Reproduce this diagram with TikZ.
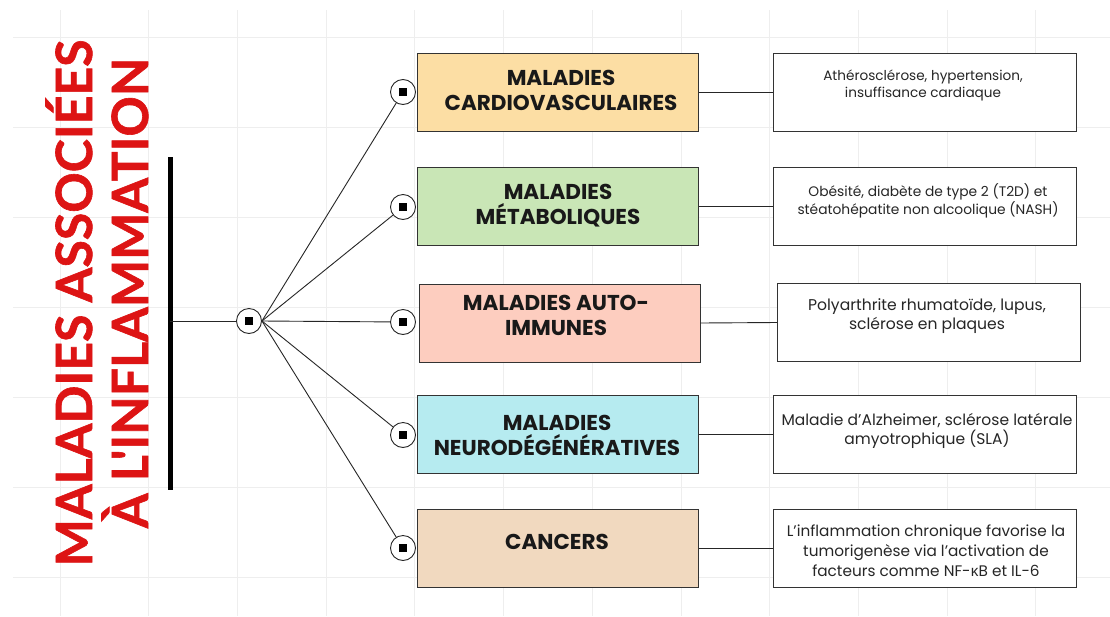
\documentclass[tikz,border=0pt]{standalone}
\usepackage{fontspec}
\setmainfont{Poppins}
\newfontfamily\titlefont[BoldFeatures={FakeBold=1.2}]{Lato}
\newfontfamily\boxfont{Poppins}
\newfontfamily\greekfont{Open Sans}
\definecolor{titlered}{HTML}{DD1414}
\definecolor{gridc}{HTML}{EEEEEE}
\definecolor{edgec}{HTML}{333333}
\definecolor{fillA}{HTML}{FCDEA4}
\definecolor{fillB}{HTML}{C9E6B6}
\definecolor{fillC}{HTML}{FDCDBF}
\definecolor{fillD}{HTML}{B6EBF0}
\definecolor{fillE}{HTML}{F1D9BF}
\tikzset{
  catbox/.style={draw=edgec, line width=1pt, rectangle, minimum width=281pt, minimum height=78pt, inner sep=0pt},
  infobox/.style={draw=edgec, line width=1pt, fill=white, rectangle, minimum width=303pt, minimum height=78pt, inner sep=0pt},
  cattext/.style={font=\boxfont\bfseries\fontsize{21.5}{25}\selectfont, align=center, text=black!90, inner sep=0pt},
  infotext/.style={align=center, text=black!85, inner sep=0pt},
  titletext/.style={rotate=90, anchor=base, text=titlered, font=\titlefont\bfseries\fontsize{50}{54}\selectfont, inner sep=0pt},
  dotnode/.style={circle, draw=black!85, line width=0.9pt, fill=white, minimum size=25pt, inner sep=0pt,
     path picture={\fill[black] ([xshift=-4pt,yshift=-4pt]path picture bounding box.center) rectangle ([xshift=4pt,yshift=4pt]path picture bounding box.center);}},
  link/.style={draw=black!85, line width=0.9pt},
}
\begin{document}
\begin{tikzpicture}[x=1pt,y=-1pt]
\useasboundingbox[fill=white] (0,0) rectangle (1110,616);
% grid
\foreach \gx in {60,148.7,...,1110} \draw[gridc, line width=0.8pt] (\gx,10) -- (\gx,616);
\foreach \gy in {37,127,...,616} \draw[gridc, line width=0.8pt] (13,\gy) -- (1110,\gy);
% title
\node[titletext] (t1) at (92,303) {MALADIES ASSOCIÉES};
\node[titletext] (t2) at (148,293) {À L'INFLAMMATION};
% bar
\coordinate (bartop) at (170,157);
\coordinate (barbot) at (170,490);
\coordinate (barmid) at (170,321);
\draw[black, line width=5pt] (bartop) -- (barbot);
% hub
\node[dotnode] (hub) at (249,321) {};
\draw[link] (barmid) -- (hub);
% category boxes
\node[catbox, fill=fillA] (b1) at (557.5,92) {};
\node[catbox, fill=fillB] (b2) at (557.5,206.5) {};
\node[catbox, fill=fillC] (b3) at (559.5,323) {};
\node[catbox, fill=fillD] (b4) at (557.5,434) {};
\node[catbox, fill=fillE] (b5) at (557.5,548) {};
\node[cattext] (c1) at (561,90) {MALADIES\\CARDIOVASCULAIRES};
\node[cattext] (c2) at (558,206) {MALADIES\\MÉTABOLIQUES};
\node[cattext] (c3) at (556,315) {MALADIES AUTO-\\IMMUNES};
\node[cattext] (c4) at (557,435) {MALADIES\\NEURODÉGÉNÉRATIVES};
\node[cattext] (c5) at (557,542) {CANCERS};
% dots
\node[dotnode] (d1) at (403,92) {};
\node[dotnode] (d2) at (403,207) {};
\node[dotnode] (d3) at (403,322) {};
\node[dotnode] (d4) at (403,435) {};
\node[dotnode] (d5) at (403,548) {};
\foreach \i in {1,...,5} \draw[link] (hub.east) -- (d\i);
% info boxes
\node[infobox] (r1) at (924.5,92) {};
\node[infobox] (r2) at (924.5,206.5) {};
\node[infobox] (r3) at (929,322.5) {};
\node[infobox] (r4) at (924.5,434) {};
\node[infobox] (r5) at (924.5,548) {};
\node[infotext, font=\boxfont\fontsize{13.6}{17}\selectfont] (i1) at (923,85) {Athérosclérose, hypertension,\\insuffisance cardiaque};
\node[infotext, font=\boxfont\fontsize{13.8}{18}\selectfont] (i2) at (928,201) {Obésité, diabète de type 2 (T2D) et\\stéatohépatite non alcoolique (NASH)};
\node[infotext, font=\boxfont\fontsize{15.6}{19}\selectfont] (i3) at (927,316) {Polyarthrite rhumatoïde, lupus,\\sclérose en plaques};
\node[infotext, font=\boxfont\fontsize{15.5}{19}\selectfont] (i4) at (927,431) {Maladie d’Alzheimer, sclérose latérale\\amyotrophique (SLA)};
\node[infotext, font=\boxfont\fontsize{15.3}{20}\selectfont] (i5) at (926,551) {L’inflammation chronique favorise la\\tumorigenèse via l’activation de\\facteurs comme NF-{\greekfont κ}B et IL-6};
\foreach \i in {1,...,5} \draw[link] (b\i.east) -- (r\i.west);
\end{tikzpicture}
\end{document}
